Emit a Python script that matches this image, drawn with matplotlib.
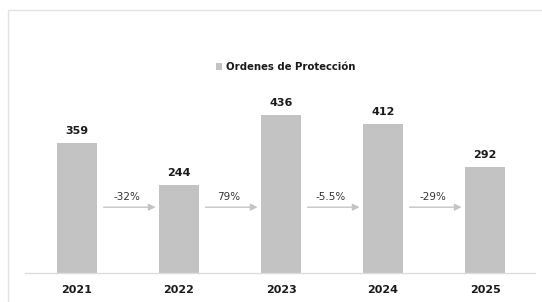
import matplotlib
matplotlib.use("Agg")
import matplotlib.pyplot as plt
from matplotlib.patches import Rectangle, Patch

years = ["2021", "2022", "2023", "2024", "2025"]
values = [359, 244, 436, 412, 292]
changes = ["-32%", "79%", "-5.5%", "-29%"]
series_name = "Ordenes de Protección"

W, H = 542, 302
fig = plt.figure(figsize=(W / 100, H / 100), dpi=100)
fig.patch.set_facecolor("white")

# outer light frame
fig.patches.append(Rectangle((8 / W, -0.05), 1.1, (H - 10) / H + 0.05,
                             transform=fig.transFigure, fill=False,
                             edgecolor="#e2e2e2", linewidth=1.0))

ax = fig.add_axes([25 / W, 29 / H, 510 / W, 217 / H])
bar_color = "#c3c3c3"
x = list(range(len(years)))
ax.bar(x, values, width=0.4, color=bar_color, zorder=2)
ax.set_xlim(-0.51, 4.49)
ax.set_ylim(0, 600)

for s in ["top", "right", "left"]:
    ax.spines[s].set_visible(False)
ax.spines["bottom"].set_color("#dcdcdc")
ax.spines["bottom"].set_linewidth(1.0)
ax.set_yticks([])
ax.set_xticks(x)
ax.set_xticklabels(years, fontsize=8, fontweight="bold", color="#1a1a1a")
ax.tick_params(axis="x", length=0, pad=8.5)

for xi, v in zip(x, values):
    ax.text(xi, v + 20, str(v), ha="center", va="bottom", fontsize=8,
            fontweight="bold", color="#1a1a1a")

arrow_y = 182
for i, c in enumerate(changes):
    ax.annotate("", xy=(i + 0.77, arrow_y), xytext=(i + 0.26, arrow_y),
                arrowprops=dict(arrowstyle="-|>", color="#c4c4c4", lw=1.0,
                                mutation_scale=10, shrinkA=0, shrinkB=0))
    ax.text(i + 0.49, arrow_y + 14, c, ha="center", va="bottom", fontsize=7.5,
            color="#333333")

leg = fig.legend(handles=[Patch(facecolor=bar_color, edgecolor="none")],
                 labels=[series_name], loc="center", bbox_to_anchor=(286 / W, 1 - 67 / H),
                 frameon=False, handlelength=0.6, handleheight=0.6, handletextpad=0.4,
                 prop=dict(size=7.3, weight="bold"))
for t in leg.get_texts():
    t.set_color("#1a1a1a")

fig.savefig("out.png", dpi=100, facecolor="white")
